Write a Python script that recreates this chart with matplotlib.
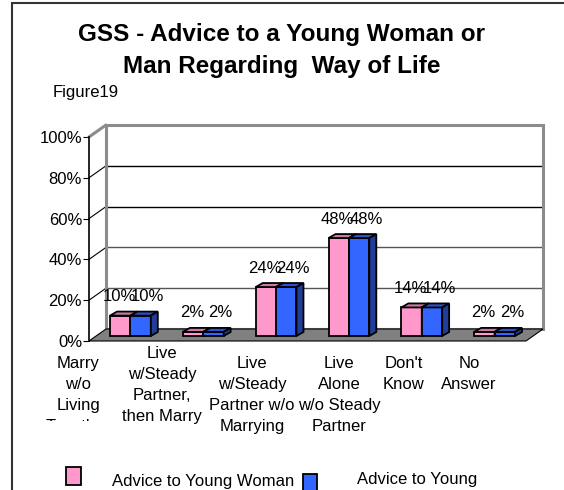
import matplotlib
matplotlib.use('Agg')
from matplotlib import pyplot as plt
from matplotlib.patches import Rectangle, Polygon
from matplotlib.transforms import offset_copy

# data
categories = ['Marry\nw/o\nLiving\nTogether',
              'Live\nw/Steady\nPartner,\nthen Marry',
              'Live\nw/Steady\nPartner w/o\nMarrying',
              'Live\nAlone\nw/o Steady\nPartner',
              "Don't\nKnow",
              'No\nAnswer']
woman = [10, 2, 24, 48, 14, 2]
man = [10, 2, 24, 48, 14, 2]
yticks = [0, 20, 40, 60, 80, 100]
series_names = ['Advice to Young Woman', 'Advice to Young\nMan']

plt.rcParams['font.family'] = ['Liberation Sans', 'DejaVu Sans']
fs = 12

W, H = 564, 490
fig = plt.figure(figsize=(W / 100, H / 100), dpi=100)
fig.patch.set_facecolor('white')

def fx(x):
    return x / W

def fy(y):
    return 1 - y / H

# chart border (runs off the right and bottom edges)
fig.add_artist(Rectangle((fx(12), fy(800)), 2, (800 - 3) / H, transform=fig.transFigure,
                         fill=False, edgecolor='#333333', lw=1.5))

# titles
fig.text(0.5, fy(35), 'GSS - Advice to a Young Woman or', ha='center', va='center',
         fontsize=17.5, fontweight='bold')
fig.text(0.5, fy(67), 'Man Regarding  Way of Life', ha='center', va='center',
         fontsize=17.5, fontweight='bold')
fig.text(fx(53), fy(92), 'Figure19', ha='left', va='center', fontsize=fs)

# front plane of the 3d box
ax = fig.add_axes([fx(89), fy(341), fx(526) - fx(89), fy(137) - fy(341)])
ax.set_xlim(0, len(categories))
ax.set_ylim(0, 100)
ax.patch.set_visible(False)
sx = len(categories) / 437.0   # data units per pixel
sy = 100 / 204.0

dX, dY = 17 * sx, 12 * sy        # wall depth
bX, bY = 5 * sx, 5 * sy          # bar row offset
ddX, ddY = 7 * sx, 4 * sy        # bar depth
bw = 0.28
n = len(categories)

# walls
ax.add_patch(Rectangle((dX, dY), n, 100, facecolor='white', edgecolor='none', zorder=1, clip_on=False))
ax.add_patch(Polygon([(0, 0), (dX, dY), (dX, 100 + dY), (0, 100)], closed=True,
                     facecolor='white', edgecolor='none', zorder=1, clip_on=False))
for t in yticks[1:-1]:
    c = 'black' if t >= 60 else '#555555'
    ax.plot([dX, n + dX], [t + dY, t + dY], color=c, lw=1, zorder=1.5, clip_on=False)
    ax.plot([0, dX], [t, t + dY], color='black', lw=0.8, zorder=1.5, clip_on=False)
ax.add_patch(Rectangle((dX, dY), n, 100, fill=False, edgecolor='#8c8c8c', lw=2.2, zorder=1.6, clip_on=False))
ax.plot([0, dX], [100, 100 + dY], color='#8c8c8c', lw=2.2, zorder=1.6, clip_on=False, solid_capstyle='round')

# floor
ax.add_patch(Polygon([(0, 0), (n, 0), (n + dX, dY), (dX, dY)], closed=True,
                     facecolor='#808080', edgecolor='black', lw=0.8, zorder=2, clip_on=False))

def bar3d(x0, v, front, top, side, z, labdx):
    x = x0 + bX
    ax.add_patch(Rectangle((x, bY), bw, v, facecolor=front, edgecolor='black', lw=1.3,
                           zorder=z, clip_on=False))
    ax.add_patch(Polygon([(x, bY + v), (x + bw, bY + v), (x + bw + ddX, bY + v + ddY), (x + ddX, bY + v + ddY)],
                         closed=True, facecolor=top, edgecolor='black', lw=1.3, zorder=z, clip_on=False))
    ax.add_patch(Polygon([(x + bw, bY), (x + bw + ddX, bY + ddY), (x + bw + ddX, bY + v + ddY), (x + bw, bY + v)],
                         closed=True, facecolor=side, edgecolor='black', lw=1.3, zorder=z, clip_on=False))
    lab = offset_copy(ax.transData, fig=fig, x=labdx, y=15, units='dots')
    ax.text(x + bw / 2, bY + v + ddY, str(v) + '%', transform=lab,
            ha='center', va='center', fontsize=fs, zorder=10, clip_on=False)

for i in range(n):
    bar3d(i + 0.5 - bw, woman[i], '#FF99CC', '#CC7AA3', '#CC7AA3', 3 + i * 0.1, -1)
    bar3d(i + 0.5, man[i], '#3366FF', '#2952CC', '#1F3D99', 3.05 + i * 0.1, 7)

# axis
for s in ['top', 'right', 'bottom']:
    ax.spines[s].set_visible(False)
ax.spines['left'].set_linewidth(1.2)
ax.spines['left'].set_zorder(4)
ax.set_xticks([])
ax.set_yticks(yticks)
ax.set_yticklabels([str(t) + '%' for t in yticks])
ax.tick_params(axis='y', length=4, width=0.8, pad=1, labelsize=fs)

# category labels
labelX = [78, 162, 252, 339, 404, 469]
labelTop = [356, 346, 356, 356, 356, 356]
for i, c in enumerate(categories):
    fig.text(fx(labelX[i]), fy(labelTop[i]), c, ha='center', va='top',
             multialignment='center', fontsize=fs, linespacing=1.5)
# the first label is cut off in the original chart
fig.add_artist(Rectangle((fx(36), fy(455)), 78 / W, (455 - 421) / H, transform=fig.transFigure,
                         facecolor='white', edgecolor='none', zorder=5))

# legend
fig.add_artist(Rectangle((fx(66), fy(485)), 15 / W, 18 / H, transform=fig.transFigure,
                         facecolor='#FF99CC', edgecolor='black', lw=1.3))
fig.add_artist(Rectangle((fx(303), fy(492)), 14 / W, 18 / H, transform=fig.transFigure,
                         facecolor='#3366FF', edgecolor='black', lw=1.3))
fig.text(fx(112), fy(481), series_names[0], ha='left', va='center', fontsize=fs)
fig.text(fx(357), fy(472), series_names[1], ha='left', va='top', fontsize=fs, linespacing=1.5)

fig.savefig('out.png', dpi=100)
